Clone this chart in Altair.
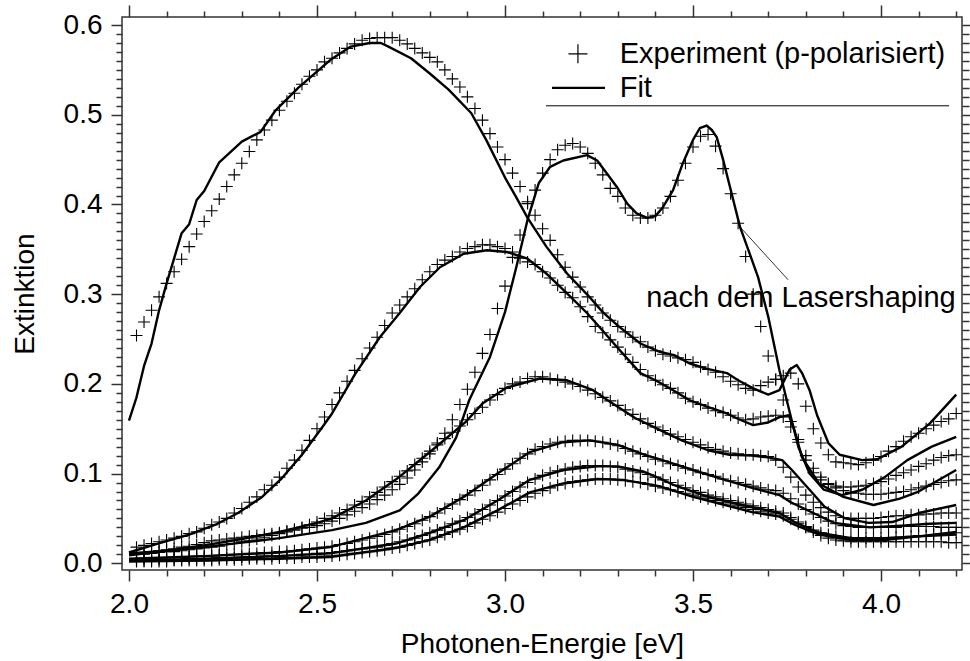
import altair as alt
import pandas as pd

FONT = "Liberation Sans"
FS = 28
FS_TXT = 29

# ---------------- data ----------------
# Experimental points: one value every 0.02 eV from 2.02 to 4.20 eV
X_EXP = [round(2.02 + 0.02 * i, 2) for i in range(110)]

EXP_A = [0.254, 0.269, 0.282, 0.297, 0.312, 0.325, 0.339, 0.353, 0.367, 0.381,
         0.393, 0.406, 0.420, 0.433, 0.446, 0.459, 0.472, 0.483, 0.494, 0.505,
         0.515, 0.524, 0.534, 0.543, 0.550, 0.559, 0.563, 0.569, 0.574, 0.579,
         0.583, 0.585, 0.586, 0.586, 0.586, 0.583, 0.579, 0.574, 0.569, 0.564,
         0.559, 0.550, 0.540, 0.531, 0.520, 0.507, 0.494, 0.479, 0.464, 0.450,
         0.435, 0.420, 0.403, 0.388, 0.373, 0.360, 0.344, 0.330, 0.319, 0.308,
         0.297, 0.288, 0.279, 0.271, 0.264, 0.258, 0.252, 0.247, 0.241, 0.237,
         0.233, 0.231, 0.229, 0.227, 0.224, 0.219, 0.216, 0.213, 0.208, 0.203,
         0.199, 0.195, 0.193, 0.198, 0.202, 0.205, 0.209, 0.212, 0.200, 0.175,
         0.150, 0.134, 0.121, 0.113, 0.112, 0.111, 0.110, 0.112, 0.115, 0.119,
         0.125, 0.130, 0.136, 0.141, 0.145, 0.150, 0.154, 0.158, 0.161, 0.167]

EXP_B = [0.011, 0.012, 0.013, 0.014, 0.015, 0.016, 0.018, 0.019, 0.021, 0.023,
         0.025, 0.026, 0.027, 0.028, 0.029, 0.030, 0.031, 0.032, 0.033, 0.034,
         0.036, 0.037, 0.039, 0.040, 0.042, 0.044, 0.047, 0.050, 0.054, 0.058,
         0.062, 0.066, 0.071, 0.076, 0.082, 0.088, 0.095, 0.104, 0.113, 0.122,
         0.134, 0.145, 0.160, 0.177, 0.194, 0.213, 0.234, 0.255, 0.284, 0.309,
         0.341, 0.366, 0.401, 0.416, 0.435, 0.450, 0.461, 0.466, 0.468, 0.464,
         0.457, 0.446, 0.433, 0.418, 0.409, 0.396, 0.388, 0.385, 0.385, 0.388,
         0.396, 0.409, 0.427, 0.446, 0.464, 0.476, 0.478, 0.465, 0.440, 0.412,
         0.379, 0.342, 0.300, 0.264, 0.231, 0.205, 0.182, 0.158, 0.135, 0.115,
         0.101, 0.093, 0.088, 0.086, 0.085, 0.085, 0.086, 0.087, 0.089, 0.091,
         0.094, 0.098, 0.101, 0.104, 0.108, 0.111, 0.115, 0.118, 0.120, 0.121]

EXP_C = [0.018, 0.020, 0.022, 0.024, 0.026, 0.028, 0.030, 0.033, 0.035, 0.039,
         0.043, 0.046, 0.050, 0.056, 0.061, 0.068, 0.074, 0.082, 0.087, 0.096,
         0.106, 0.115, 0.126, 0.137, 0.150, 0.163, 0.177, 0.190, 0.203, 0.215,
         0.228, 0.240, 0.252, 0.265, 0.279, 0.288, 0.297, 0.306, 0.316, 0.325,
         0.333, 0.338, 0.342, 0.347, 0.351, 0.353, 0.355, 0.355, 0.353, 0.351,
         0.347, 0.340, 0.336, 0.333, 0.325, 0.318, 0.310, 0.302, 0.296, 0.286,
         0.275, 0.264, 0.257, 0.249, 0.241, 0.233, 0.224, 0.216, 0.209, 0.204,
         0.199, 0.195, 0.190, 0.184, 0.180, 0.177, 0.173, 0.170, 0.168, 0.165,
         0.162, 0.160, 0.161, 0.163, 0.164, 0.165, 0.163, 0.152, 0.138, 0.120,
         0.106, 0.096, 0.089, 0.084, 0.081, 0.079, 0.078, 0.077, 0.077, 0.077,
         0.078, 0.079, 0.080, 0.082, 0.084, 0.086, 0.088, 0.090, 0.092, 0.093]

EXP_D = [0.010, 0.010, 0.011, 0.012, 0.013, 0.013, 0.014, 0.015, 0.016, 0.017,
         0.018, 0.019, 0.021, 0.022, 0.024, 0.025, 0.027, 0.029, 0.031, 0.033,
         0.035, 0.038, 0.040, 0.043, 0.046, 0.050, 0.053, 0.056, 0.060, 0.065,
         0.069, 0.074, 0.079, 0.085, 0.091, 0.097, 0.103, 0.110, 0.117, 0.125,
         0.132, 0.139, 0.146, 0.153, 0.160, 0.167, 0.174, 0.182, 0.188, 0.195,
         0.200, 0.202, 0.206, 0.208, 0.208, 0.206, 0.204, 0.202, 0.200, 0.197,
         0.193, 0.189, 0.185, 0.181, 0.176, 0.171, 0.166, 0.161, 0.156, 0.152,
         0.148, 0.144, 0.141, 0.138, 0.135, 0.132, 0.129, 0.127, 0.125, 0.123,
         0.122, 0.121, 0.121, 0.120, 0.119, 0.115, 0.107, 0.096, 0.085, 0.076,
         0.068, 0.062, 0.057, 0.053, 0.051, 0.050, 0.050, 0.050, 0.050, 0.051,
         0.052, 0.053, 0.053, 0.054, 0.054, 0.055, 0.055, 0.056, 0.056, 0.056]

EXP_E = [0.005, 0.005, 0.006, 0.006, 0.006, 0.007, 0.007, 0.007, 0.008, 0.008,
         0.008, 0.009, 0.009, 0.010, 0.010, 0.011, 0.011, 0.012, 0.012, 0.013,
         0.013, 0.014, 0.015, 0.016, 0.017, 0.018, 0.019, 0.021, 0.022, 0.024,
         0.026, 0.028, 0.030, 0.032, 0.035, 0.038, 0.041, 0.044, 0.048, 0.052,
         0.056, 0.061, 0.066, 0.071, 0.076, 0.081, 0.087, 0.093, 0.099, 0.105,
         0.111, 0.117, 0.122, 0.127, 0.130, 0.133, 0.135, 0.136, 0.137, 0.137,
         0.137, 0.136, 0.135, 0.133, 0.131, 0.128, 0.125, 0.122, 0.119, 0.116,
         0.114, 0.111, 0.109, 0.106, 0.104, 0.101, 0.099, 0.097, 0.094, 0.092,
         0.090, 0.088, 0.086, 0.084, 0.082, 0.081, 0.078, 0.072, 0.066, 0.060,
         0.055, 0.051, 0.047, 0.044, 0.042, 0.041, 0.040, 0.040, 0.040, 0.040,
         0.040, 0.040, 0.041, 0.041, 0.041, 0.041, 0.041, 0.040, 0.040, 0.040]

EXP_F = [0.003, 0.003, 0.003, 0.004, 0.004, 0.004, 0.004, 0.005, 0.005, 0.005,
         0.005, 0.006, 0.006, 0.006, 0.007, 0.007, 0.007, 0.008, 0.008, 0.008,
         0.009, 0.009, 0.010, 0.010, 0.011, 0.011, 0.012, 0.013, 0.014, 0.015,
         0.016, 0.017, 0.018, 0.020, 0.022, 0.024, 0.026, 0.028, 0.031, 0.034,
         0.037, 0.040, 0.044, 0.047, 0.051, 0.055, 0.060, 0.065, 0.070, 0.075,
         0.080, 0.085, 0.090, 0.094, 0.098, 0.101, 0.103, 0.105, 0.107, 0.108,
         0.109, 0.109, 0.109, 0.108, 0.107, 0.105, 0.103, 0.101, 0.099, 0.096,
         0.093, 0.090, 0.087, 0.084, 0.081, 0.079, 0.076, 0.074, 0.072, 0.070,
         0.068, 0.066, 0.064, 0.062, 0.060, 0.058, 0.056, 0.051, 0.046, 0.041,
         0.037, 0.034, 0.032, 0.030, 0.029, 0.028, 0.028, 0.028, 0.028, 0.028,
         0.028, 0.029, 0.029, 0.030, 0.031, 0.031, 0.032, 0.033, 0.033, 0.034]

EXP_G = [0.002, 0.002, 0.002, 0.002, 0.002, 0.003, 0.003, 0.003, 0.003, 0.003,
         0.003, 0.004, 0.004, 0.004, 0.004, 0.005, 0.005, 0.005, 0.005, 0.006,
         0.006, 0.006, 0.007, 0.007, 0.007, 0.008, 0.008, 0.009, 0.010, 0.011,
         0.012, 0.013, 0.014, 0.015, 0.017, 0.018, 0.020, 0.022, 0.024, 0.026,
         0.029, 0.032, 0.035, 0.038, 0.041, 0.045, 0.049, 0.053, 0.057, 0.061,
         0.066, 0.070, 0.074, 0.078, 0.081, 0.084, 0.087, 0.089, 0.091, 0.092,
         0.093, 0.094, 0.094, 0.094, 0.093, 0.092, 0.091, 0.090, 0.088, 0.086,
         0.084, 0.082, 0.080, 0.078, 0.076, 0.074, 0.072, 0.070, 0.068, 0.066,
         0.064, 0.062, 0.060, 0.058, 0.056, 0.055, 0.053, 0.049, 0.044, 0.040,
         0.035, 0.031, 0.028, 0.026, 0.025, 0.024, 0.024, 0.024, 0.024, 0.024,
         0.024, 0.024, 0.024, 0.024, 0.024, 0.024, 0.024, 0.024, 0.023, 0.023]

# Fit curves (x in eV, y extinction)
FIT_A_X = [2.00, 2.02, 2.04, 2.06, 2.08, 2.10, 2.12, 2.14, 2.16, 2.18, 2.20, 2.24, 2.30, 2.35,
           2.39, 2.45, 2.535, 2.59, 2.64, 2.67, 2.69, 2.75, 2.80, 2.85, 2.91, 2.95, 3.00, 3.03,
           3.06, 3.11, 3.165, 3.22, 3.26, 3.30, 3.36, 3.41, 3.45, 3.49, 3.535, 3.59, 3.62, 3.66,
           3.70, 3.73, 3.757, 3.776, 3.79, 3.81, 3.83, 3.86, 3.89, 3.95, 3.99, 4.055, 4.13, 4.20]
FIT_A_Y = [0.159, 0.185, 0.220, 0.245, 0.282, 0.312, 0.340, 0.368, 0.378, 0.405, 0.415, 0.447, 0.470, 0.481,
           0.505, 0.530, 0.561, 0.576, 0.580, 0.580, 0.576, 0.563, 0.546, 0.528, 0.502, 0.472, 0.430, 0.408,
           0.385, 0.353, 0.323, 0.299, 0.280, 0.265, 0.245, 0.236, 0.232, 0.223, 0.217, 0.212, 0.204, 0.195,
           0.188, 0.193, 0.216, 0.221, 0.212, 0.193, 0.165, 0.134, 0.121, 0.115, 0.116, 0.130, 0.156, 0.188]

FIT_B_X = [2.00, 2.10, 2.20, 2.30, 2.40, 2.54, 2.63, 2.72, 2.77, 2.825, 2.87, 2.905, 2.96, 3.00,
           3.03, 3.06, 3.09, 3.12, 3.155, 3.218, 3.245, 3.27, 3.30, 3.325, 3.35, 3.378, 3.40, 3.42,
           3.447, 3.473, 3.50, 3.518, 3.536, 3.55, 3.563, 3.58, 3.598, 3.625, 3.65, 3.673, 3.70, 3.73,
           3.758, 3.78, 3.81, 3.848, 3.896, 3.95, 4.01, 4.07, 4.135, 4.20]
FIT_B_Y = [0.011, 0.014, 0.018, 0.023, 0.028, 0.037, 0.045, 0.059, 0.078, 0.107, 0.140, 0.182, 0.230, 0.280,
           0.330, 0.383, 0.424, 0.442, 0.449, 0.455, 0.449, 0.435, 0.418, 0.401, 0.390, 0.385, 0.387, 0.397,
           0.416, 0.446, 0.472, 0.485, 0.488, 0.483, 0.475, 0.450, 0.420, 0.375, 0.346, 0.319, 0.275, 0.215,
           0.167, 0.130, 0.100, 0.082, 0.076, 0.082, 0.096, 0.115, 0.130, 0.141]

FIT_C_X = [2.00, 2.07, 2.16, 2.23, 2.29, 2.354, 2.407, 2.46, 2.513, 2.54, 2.60, 2.667, 2.72, 2.774,
           2.827, 2.89, 2.952, 3.005, 3.058, 3.11, 3.165, 3.218, 3.25, 3.30, 3.36, 3.40, 3.447, 3.49,
           3.535, 3.59, 3.625, 3.66, 3.70, 3.73, 3.755, 3.77, 3.79, 3.835, 3.90, 3.98, 4.05, 4.10, 4.15, 4.20]
FIT_C_Y = [0.012, 0.021, 0.032, 0.043, 0.056, 0.074, 0.095, 0.121, 0.151, 0.167, 0.210, 0.252, 0.279, 0.308,
           0.330, 0.345, 0.349, 0.347, 0.340, 0.323, 0.301, 0.279, 0.264, 0.240, 0.212, 0.204, 0.193, 0.182,
           0.175, 0.167, 0.160, 0.154, 0.157, 0.163, 0.165, 0.148, 0.118, 0.089, 0.074, 0.065, 0.072, 0.080, 0.092, 0.104]

FIT_D_X = [2.00, 2.10, 2.20, 2.30, 2.40, 2.50, 2.54, 2.63, 2.718, 2.806, 2.894, 2.94, 3.005, 3.093,
           3.165, 3.234, 3.276, 3.346, 3.41, 3.47, 3.54, 3.597, 3.657, 3.70, 3.737, 3.763, 3.81, 3.85,
           3.905, 3.967, 4.03, 4.10, 4.20]
FIT_D_Y = [0.009, 0.014, 0.020, 0.027, 0.035, 0.045, 0.050, 0.070, 0.096, 0.126, 0.157, 0.178, 0.196, 0.206,
           0.204, 0.193, 0.181, 0.162, 0.149, 0.137, 0.126, 0.121, 0.120, 0.118, 0.115, 0.104, 0.082, 0.063,
           0.050, 0.045, 0.046, 0.056, 0.065]

FIT_E_X = [2.00, 2.20, 2.40, 2.535, 2.71, 2.80, 2.89, 2.98, 3.066, 3.155, 3.226, 3.30, 3.37, 3.41,
           3.50, 3.585, 3.657, 3.73, 3.76, 3.82, 3.875, 3.97, 4.055, 4.13, 4.20]
FIT_E_Y = [0.005, 0.008, 0.012, 0.018, 0.037, 0.052, 0.074, 0.100, 0.124, 0.135, 0.137, 0.132, 0.121, 0.116,
           0.104, 0.093, 0.084, 0.076, 0.068, 0.056, 0.045, 0.040, 0.042, 0.044, 0.045]

FIT_F_X = [2.00, 2.20, 2.40, 2.535, 2.71, 2.80, 2.89, 2.98, 3.066, 3.155, 3.245, 3.30, 3.37, 3.41,
           3.45, 3.54, 3.63, 3.73, 3.77, 3.835, 3.92, 4.01, 4.10, 4.20]
FIT_F_Y = [0.003, 0.005, 0.008, 0.011, 0.022, 0.034, 0.048, 0.070, 0.093, 0.104, 0.108, 0.108, 0.102, 0.095,
           0.087, 0.074, 0.065, 0.056, 0.046, 0.034, 0.028, 0.028, 0.030, 0.035]

FIT_G_X = [2.00, 2.20, 2.40, 2.535, 2.71, 2.80, 2.89, 2.98, 3.066, 3.155, 3.245, 3.315, 3.41, 3.50,
           3.585, 3.657, 3.73, 3.77, 3.835, 3.92, 4.01, 4.10, 4.20]
FIT_G_Y = [0.002, 0.003, 0.005, 0.007, 0.017, 0.026, 0.040, 0.059, 0.079, 0.089, 0.094, 0.093, 0.086, 0.074,
           0.065, 0.057, 0.052, 0.043, 0.032, 0.026, 0.026, 0.030, 0.032]

CURVES = ["A", "B", "C", "D", "E", "F", "G"]
EXPS = [EXP_A, EXP_B, EXP_C, EXP_D, EXP_E, EXP_F, EXP_G]
FITS = [(FIT_A_X, FIT_A_Y), (FIT_B_X, FIT_B_Y), (FIT_C_X, FIT_C_Y), (FIT_D_X, FIT_D_Y),
        (FIT_E_X, FIT_E_Y), (FIT_F_X, FIT_F_Y), (FIT_G_X, FIT_G_Y)]

LEGEND_EXP = "Experiment (p-polarisiert)"
LEGEND_FIT = "Fit"
ANNOTATION = "nach dem Lasershaping"
X_TITLE = "Photonen-Energie [eV]"
Y_TITLE = "Extinktion"

# ---------------- tables ----------------
exp_rows = []
for name, ys in zip(CURVES, EXPS):
    assert len(ys) == len(X_EXP), (name, len(ys))
    for x, y in zip(X_EXP, ys):
        exp_rows.append({"curve": name, "x": x, "y": y})
exp_df = pd.DataFrame(exp_rows)

fit_rows = []
for name, (xs, ys) in zip(CURVES, FITS):
    assert len(xs) == len(ys), (name, len(xs), len(ys))
    for i, (x, y) in enumerate(zip(xs, ys)):
        fit_rows.append({"curve": name, "i": i, "x": x, "y": y})
fit_df = pd.DataFrame(fit_rows)

# ---------------- scales & axes ----------------
XDOM = [1.9814, 4.2154]
YDOM = [-0.0075, 0.609]
xs_ = alt.Scale(domain=XDOM, nice=False, zero=False)
ys_ = alt.Scale(domain=YDOM, nice=False, zero=False)

x_ticks = [round(2.0 + 0.1 * k, 1) for k in range(23)]
y_ticks = [round(0.01 * k, 2) for k in range(61)]
xmaj = "abs(datum.value*2 - round(datum.value*2)) < 0.001"
ymaj = "abs(datum.value*10 - round(datum.value*10)) < 0.001"

common = dict(domain=False, grid=False, tickColor="#333333", tickWidth=1.5,
              labelFont=FONT, labelFontSize=FS, labelColor="black",
              titleFont=FONT, titleFontSize=FS, titleColor="black", titleFontWeight="normal",
              labelOverlap=False, labelFlush=False, labelBound=False)

ax_bottom = alt.Axis(orient="bottom", values=x_ticks,
                     labelExpr=f"({xmaj}) ? format(datum.value, '.1f') : ''",
                     tickSize={"condition": {"test": xmaj, "value": 11}, "value": 6},
                     labelPadding=9, title=X_TITLE, titlePadding=12, **common)
ax_top = alt.Axis(orient="top", values=x_ticks, labels=False, title=None,
                  tickSize={"condition": {"test": xmaj, "value": 12}, "value": 6}, **common)
ax_left = alt.Axis(orient="left", values=y_ticks,
                   labelExpr=f"({ymaj}) ? format(datum.value, '.1f') : ''",
                   tickSize={"condition": {"test": ymaj, "value": 11}, "value": 6},
                   labelPadding=9, title=Y_TITLE, titlePadding=24, **common)
ax_right = alt.Axis(orient="right", values=y_ticks, labels=False, title=None,
                    tickSize={"condition": {"test": ymaj, "value": 10}, "value": 7}, **common)

PLUS = "M-1,0L1,0M0,-1L0,1"

fit_layer = alt.Chart(fit_df).mark_line(color="black", strokeWidth=2.4, strokeJoin="round", clip=True).encode(
    x=alt.X("x:Q", scale=xs_, axis=ax_bottom),
    y=alt.Y("y:Q", scale=ys_, axis=ax_left),
    detail="curve:N",
    order="i:Q",
)

exp_layer = alt.Chart(exp_df).mark_point(shape=PLUS, filled=False, color="black", strokeWidth=1.1,
                                         size=144, opacity=1, clip=True).encode(
    x=alt.X("x:Q", scale=xs_, axis=ax_top),
    y=alt.Y("y:Q", scale=ys_, axis=ax_right),
    detail="curve:N",
)

# annotation
ann_line_df = pd.DataFrame({"x": [3.625], "y": [0.375], "x2": [3.753], "y2": [0.316]})
ann_line = alt.Chart(ann_line_df).mark_rule(color="black", strokeWidth=0.8).encode(
    x=alt.X("x:Q", scale=xs_, axis=None), y=alt.Y("y:Q", scale=ys_, axis=None),
    x2="x2:Q", y2="y2:Q")
ann_text_df = pd.DataFrame({"x": [3.787], "y": [0.286], "t": [ANNOTATION]})
ann_text = alt.Chart(ann_text_df).mark_text(font=FONT, fontSize=FS_TXT, align="center",
                                            baseline="alphabetic", color="black").encode(
    x=alt.X("x:Q", scale=xs_, axis=None), y=alt.Y("y:Q", scale=ys_, axis=None), text="t:N")

# legend
leg_pt_df = pd.DataFrame({"x": [3.194], "y": [0.568]})
leg_pt = alt.Chart(leg_pt_df).mark_point(shape=PLUS, filled=False, color="black", strokeWidth=1.2,
                                         size=361, opacity=1).encode(
    x=alt.X("x:Q", scale=xs_, axis=None), y=alt.Y("y:Q", scale=ys_, axis=None))
leg_lines_df = pd.DataFrame({"x": [3.125, 3.109], "x2": [3.266, 4.181], "y": [0.530, 0.510],
                             "w": ["fit", "under"]})
leg_fit_line = alt.Chart(leg_lines_df[leg_lines_df.w == "fit"]).mark_rule(color="black", strokeWidth=2.4).encode(
    x=alt.X("x:Q", scale=xs_, axis=None), y=alt.Y("y:Q", scale=ys_, axis=None), x2="x2:Q")
leg_under = alt.Chart(leg_lines_df[leg_lines_df.w == "under"]).mark_rule(color="black", strokeWidth=1).encode(
    x=alt.X("x:Q", scale=xs_, axis=None), y=alt.Y("y:Q", scale=ys_, axis=None), x2="x2:Q")
leg_text_df = pd.DataFrame({"x": [3.305, 3.305], "y": [0.558, 0.520], "t": [LEGEND_EXP, LEGEND_FIT]})
leg_text = alt.Chart(leg_text_df).mark_text(font=FONT, fontSize=FS_TXT, align="left",
                                            baseline="alphabetic", color="black").encode(
    x=alt.X("x:Q", scale=xs_, axis=None), y=alt.Y("y:Q", scale=ys_, axis=None), text="t:N")

chart = alt.layer(
    fit_layer, exp_layer, ann_line, ann_text, leg_pt, leg_fit_line, leg_under, leg_text
).resolve_axis(x="independent", y="independent").properties(
    width=840, height=553,
    padding={"left": 122, "top": 17, "right": 8, "bottom": 91},
    autosize=alt.AutoSizeParams(type="none"),
    background="white",
).configure_view(stroke="#333333", strokeWidth=1.5)

chart.save("out.html", embed_options={"renderer": "svg", "actions": False})
